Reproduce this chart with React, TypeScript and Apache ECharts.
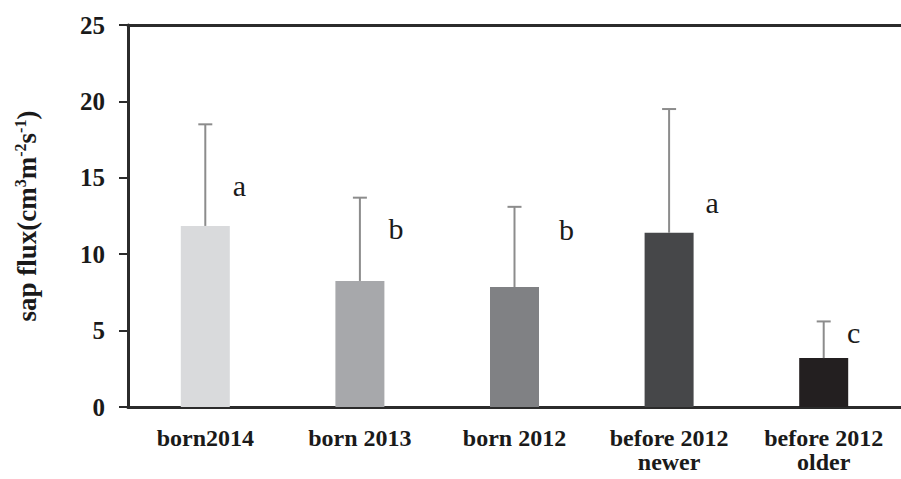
import React, { useEffect, useRef } from "react";
import * as echarts from "echarts";

const categories = ["born2014", "born 2013", "born 2012", "before 2012\nnewer", "before 2012\nolder"];
const means = [11.85, 8.25, 7.85, 11.4, 3.2];
const upper = [18.5, 13.7, 13.1, 19.5, 5.6];
const letters = ["a", "b", "b", "a", "c"];
const letterY = [14.5, 11.7, 11.6, 13.4, 4.9];
const yTicks = [0, 5, 10, 15, 20, 25];

// layout-only constants
const barColors = ["#d9dadc", "#a7a8ab", "#808184", "#464749", "#231f20"];
const letterDx = [34, 36, 52, 43, 30];
const SERIF = "Liberation Serif";

export default function App() {
  const ref = useRef<HTMLDivElement>(null);
  useEffect(() => {
    if (!ref.current) return;
    const chart = echarts.init(ref.current, undefined, { renderer: "svg" });
    chart.setOption({
      animation: false,
      backgroundColor: "#ffffff",
      grid: { left: 128, right: -7, top: 25, bottom: 72, containLabel: false },
      xAxis: [
        {
          type: "category",
          data: categories,
          position: "bottom",
          axisLine: { show: true, lineStyle: { color: "#2b2b2b", width: 3 } },
          axisTick: { show: false },
          axisLabel: {
            color: "#1a1a1a",
            fontFamily: SERIF,
            fontWeight: "bold",
            fontSize: 24,
            lineHeight: 24,
            margin: 19,
            interval: 0,
          },
        },
        {
          type: "category",
          data: categories,
          position: "top",
          axisLine: { show: true, lineStyle: { color: "#2b2b2b", width: 3 } },
          axisTick: { show: false },
          axisLabel: { show: false },
        },
      ],
      yAxis: {
        type: "value",
        min: 0,
        max: 25,
        interval: 5,
        axisLine: { show: true, lineStyle: { color: "#2b2b2b", width: 3 } },
        axisTick: { show: true, inside: false, length: 9, lineStyle: { color: "#2b2b2b", width: 2 } },
        splitLine: { show: false },
        axisLabel: {
          color: "#1a1a1a",
          fontFamily: SERIF,
          fontWeight: "bold",
          fontSize: 25,
          margin: 23,
          formatter: (v: number) => (yTicks.includes(v) ? String(v) : ""),
        },
        name: "{a|sap flux(cm}{s|3}{a|m}{s|-2}{a|s}{s|-1}{a|)}",
        nameLocation: "middle",
        nameRotate: 90,
        nameGap: 86,
        nameTextStyle: {
          rich: {
            a: { fontFamily: SERIF, fontWeight: "bold", fontSize: 27, color: "#1a1a1a", lineHeight: 30 },
            s: { fontFamily: SERIF, fontWeight: "bold", fontSize: 16, color: "#1a1a1a", verticalAlign: "top" },
          },
        },
      },
      series: [
        {
          type: "bar",
          data: means.map((v, i) => ({ value: v, itemStyle: { color: barColors[i] } })),
          barWidth: 49,
          z: 2,
        },
        {
          type: "custom",
          data: means.map((m, i) => [i, m, upper[i]]),
          z: 3,
          renderItem: (params: any, api: any) => {
            const i = api.value(0);
            const lo = api.coord([i, api.value(1)]);
            const hi = api.coord([i, api.value(2)]);
            const style = { stroke: "#8c8c8c", lineWidth: 2 };
            return {
              type: "group",
              children: [
                { type: "line", shape: { x1: lo[0], y1: lo[1], x2: hi[0], y2: hi[1] }, style },
                { type: "line", shape: { x1: hi[0] - 7, y1: hi[1], x2: hi[0] + 7, y2: hi[1] }, style },
              ],
            };
          },
        },
        {
          type: "custom",
          data: letterY.map((v, i) => [i, v]),
          z: 4,
          renderItem: (params: any, api: any) => {
            const i = api.value(0);
            const p = api.coord([i, api.value(1)]);
            return {
              type: "text",
              x: p[0] + letterDx[params.dataIndex],
              y: p[1],
              style: {
                text: letters[params.dataIndex],
                fontFamily: SERIF,
                fontSize: 30,
                fill: "#1a1a1a",
                align: "center",
                verticalAlign: "middle",
              },
            };
          },
        },
      ],
    });
    return () => chart.dispose();
  }, []);
  return <div ref={ref} style={{ width: 901, height: 479, position: "fixed", left: 0, top: 0 }} />;
}
